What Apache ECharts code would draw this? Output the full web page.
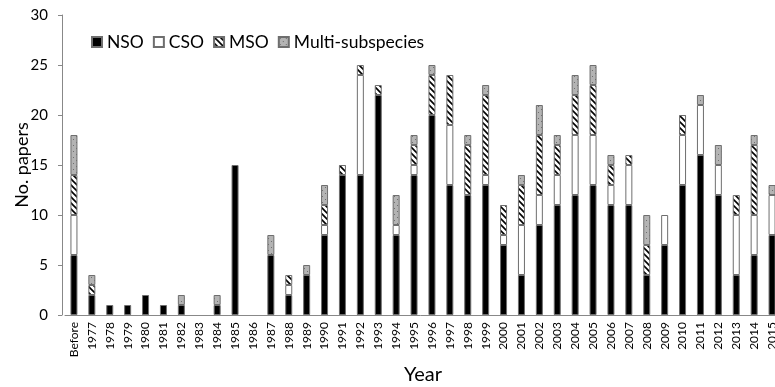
<!DOCTYPE html>
<html>
<head>
<meta charset="utf-8">
<script src="https://cdn.jsdelivr.net/npm/echarts@6/dist/echarts.min.js"></script>
<style>
  html, body { margin: 0; padding: 0; background: #fff; }
  #chart { width: 775px; height: 387px; }
</style>
</head>
<body>
<div id="chart"></div>
<script>
// Papers per year, split by owl subspecies
const years = ['Before', '1977', '1978', '1979', '1980', '1981', '1982', '1983', '1984', '1985',
  '1986', '1987', '1988', '1989', '1990', '1991', '1992', '1993', '1994', '1995',
  '1996', '1997', '1998', '1999', '2000', '2001', '2002', '2003', '2004', '2005',
  '2006', '2007', '2008', '2009', '2010', '2011', '2012', '2013', '2014', '2015'];

const nso   = [6, 2, 1, 1, 2, 1, 1, 0, 1, 15, 0, 6, 2, 4, 8, 14, 14, 22, 8, 14,
               20, 13, 12, 13, 7, 4, 9, 11, 12, 13, 11, 11, 4, 7, 13, 16, 12, 4, 6, 8];
const cso   = [4, 0, 0, 0, 0, 0, 0, 0, 0, 0, 0, 0, 1, 0, 1, 0, 10, 0, 1, 1,
               0, 6, 0, 1, 1, 5, 3, 3, 6, 5, 2, 4, 0, 3, 5, 5, 3, 6, 4, 4];
const mso   = [4, 1, 0, 0, 0, 0, 0, 0, 0, 0, 0, 0, 1, 0, 2, 1, 1, 1, 0, 2,
               4, 5, 5, 8, 3, 4, 6, 3, 4, 5, 2, 1, 3, 0, 2, 0, 0, 2, 7, 0];
const multi = [4, 1, 0, 0, 0, 0, 1, 0, 1, 0, 0, 2, 0, 1, 2, 0, 0, 0, 3, 1,
               1, 0, 1, 1, 0, 1, 3, 1, 2, 2, 1, 0, 3, 0, 0, 1, 2, 0, 1, 1];

const yTicks = { min: 0, max: 30, step: 5 };

// Diagonal hatching for MSO
function hatchPattern() {
  const c = document.createElement('canvas');
  c.width = 6; c.height = 6;
  const g = c.getContext('2d');
  g.fillStyle = '#fff';
  g.fillRect(0, 0, 6, 6);
  g.strokeStyle = '#000';
  g.lineWidth = 1.6;
  g.beginPath();
  g.moveTo(-1, -1); g.lineTo(7, 7);
  g.moveTo(-4, 2); g.lineTo(2, 8);
  g.moveTo(4, -2); g.lineTo(8, 2);
  g.stroke();
  return { image: c, repeat: 'repeat' };
}

// Grey fill with sparse dark dots for multi-subspecies
function dotPattern() {
  const c = document.createElement('canvas');
  c.width = 6; c.height = 6;
  const g = c.getContext('2d');
  g.fillStyle = '#b4b4b4';
  g.fillRect(0, 0, 6, 6);
  g.fillStyle = '#707070';
  g.fillRect(1, 1, 1, 1);
  g.fillRect(4, 4, 1, 1);
  return { image: c, repeat: 'repeat' };
}

const border = { borderColor: '#6e6e6e', borderWidth: 1 };
const font = 'Lato, "Liberation Sans", sans-serif';

// empty segments are left out so they draw no outline
function barSeries(name, values, color) {
  return {
    name: name,
    type: 'bar',
    stack: 'papers',
    data: values.map(v => (v === 0 ? '-' : v)),
    barWidth: 7,
    itemStyle: Object.assign({ color: color }, border),
    emphasis: { disabled: true }
  };
}

const chart = echarts.init(document.getElementById('chart'), null, { renderer: 'canvas' });

chart.setOption({
  animation: false,
  backgroundColor: '#fff',
  textStyle: { fontFamily: font },
  grid: { left: 65, width: 716, top: 15, bottom: 72, containLabel: false, outerBoundsMode: 'none' },
  legend: {
    left: 86, top: 28,
    itemWidth: 10, itemHeight: 10, itemGap: 9,
    icon: 'rect',
    textStyle: { fontSize: 17.5, color: '#000', fontFamily: font },
    data: ['NSO', 'CSO', 'MSO', 'Multi-subspecies']
  },
  xAxis: {
    type: 'category',
    data: years,
    name: 'Year',
    nameLocation: 'middle',
    nameGap: 50,
    nameMoveOverlap: false,
    nameTextStyle: { fontSize: 20, color: '#000', fontFamily: font },
    axisLine: { lineStyle: { color: '#888', width: 1 } },
    axisTick: { show: false },
    axisLabel: { rotate: 90, interval: 0, fontSize: 12, color: '#000', margin: 7, fontFamily: font }
  },
  yAxis: {
    type: 'value',
    min: yTicks.min, max: yTicks.max, interval: yTicks.step,
    offset: 3,
    name: 'No. papers',
    nameLocation: 'middle',
    nameGap: 31,
    nameMoveOverlap: false,
    nameTextStyle: { fontSize: 18, color: '#000', fontFamily: font },
    splitLine: { show: false },
    axisLine: { show: true, lineStyle: { color: '#888', width: 1 } },
    axisTick: { show: true, inside: false, length: 4, lineStyle: { color: '#888' } },
    axisLabel: { fontSize: 15, color: '#000', margin: 14, fontFamily: font }
  },
  series: [
    barSeries('NSO', nso, '#000'),
    barSeries('CSO', cso, '#fff'),
    barSeries('MSO', mso, hatchPattern()),
    barSeries('Multi-subspecies', multi, dotPattern())
  ]
});
</script>
</body>
</html>
